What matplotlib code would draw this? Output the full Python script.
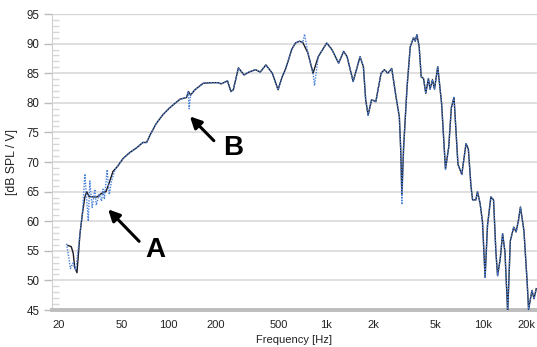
import numpy as np
import matplotlib
matplotlib.use("Agg")
import matplotlib.pyplot as plt
import matplotlib.transforms as mtransforms
from matplotlib.ticker import FixedLocator, MultipleLocator

plt.rcParams['font.family'] = ['Liberation Sans', 'DejaVu Sans']

# smoothed response (black)
freq = [22.9, 24.0, 24.7, 25.2, 26.1, 27.3, 28.3, 29.3, 30.1, 31.1, 33.1, 35.0, 37.4, 39.9,
        41.9, 44.2, 47.1, 51.3, 56.6, 62.6, 68.5, 72.4, 76.3, 83.4, 92.0, 101, 118, 130,
        133.5, 138, 147, 166, 187, 206, 216, 237, 249, 258, 278, 302, 325, 357, 383, 416,
        457, 497, 528, 553, 580, 607, 641, 681, 714, 770, 830, 896, 1014, 1094, 1207, 1300,
        1366, 1494, 1653, 1736, 1795, 1860, 1956, 2083, 2249, 2360, 2480, 2630, 2800, 2940,
        3000, 3050, 3130, 3290, 3450, 3620, 3710, 3800, 3930, 4050, 4190, 4330, 4500, 4610,
        4780, 4920, 5160, 5460, 5780, 6060, 6300, 6550, 6940, 7340, 7810, 8080, 8400, 8600,
        9020, 9240, 9600, 9940, 10330, 10700, 11240, 11690, 12100, 12400, 12890, 13350,
        13820, 14380, 14950, 15720, 16270, 16830, 17340, 18250, 19150, 19530, 20530, 21150,
        21860]
spl = [55.9, 55.7, 54.6, 52.3, 51.3, 58.0, 61.4, 64.1, 65.0, 64.2, 64.1, 64.1, 64.7, 65.0,
       66.5, 68.4, 69.2, 70.6, 71.6, 72.4, 73.3, 73.3, 74.6, 76.5, 78.0, 79.1, 80.6, 80.9,
       81.9, 81.3, 82.2, 83.3, 83.4, 83.4, 83.2, 83.7, 81.9, 82.2, 85.9, 84.7, 85.2, 85.6,
       85.2, 86.4, 85.0, 82.2, 84.4, 85.6, 87.3, 89.0, 90.1, 90.4, 90.2, 88.4, 85.0, 87.8,
       90.1, 89.0, 86.7, 88.7, 87.8, 83.6, 87.8, 86.1, 80.5, 77.9, 80.5, 80.2, 85.0, 85.6,
       85.0, 85.8, 81.0, 77.6, 72.0, 64.5, 72.5, 82.6, 89.5, 91.0, 90.4, 91.5, 89.5, 84.4,
       84.1, 81.6, 84.1, 82.3, 83.9, 82.3, 86.1, 79.9, 68.8, 72.5, 79.2, 80.9, 69.6, 67.9,
       73.1, 72.2, 65.9, 63.6, 63.6, 65.0, 63.0, 59.9, 50.5, 59.3, 64.1, 63.6, 54.8, 50.8,
       53.6, 57.9, 54.8, 44.6, 56.7, 59.0, 58.2, 60.1, 62.4, 58.4, 49.5, 45.1, 48.3, 46.9,
       48.6]

# raw response (blue dotted): low end and single-bin spikes differ from the smoothed one
raw_low_freq = [22.4, 23.2, 23.7, 24.6, 25.6, 27.3, 28.3, 29.3, 30.8, 31.5, 32.6, 33.9, 34.6,
                36.1, 37.4, 38.2, 39.0, 40.6, 41.9, 43.3, 45.6]
raw_low_spl = [56.2, 53.7, 52.0, 52.9, 51.7, 58.0, 61.4, 68.0, 60.0, 66.8, 62.3, 65.4, 62.7,
               64.5, 63.4, 65.4, 63.7, 68.7, 64.5, 66.8, 68.7]
spike_freq = [135, 733, 848, 3050]
spike_spl = [79.0, 91.6, 82.9, 62.8]

f = np.array(freq)
s = np.array(spl)
keep = (f > 46) & ~np.isin(f, [3050])
raw_f = np.concatenate([raw_low_freq, f[keep], spike_freq])
raw_s = np.concatenate([raw_low_spl, s[keep], spike_spl])
order = np.argsort(raw_f)
raw_f, raw_s = raw_f[order], raw_s[order]

fig = plt.figure(figsize=(5.37, 3.47), dpi=100)
ax = fig.add_axes([52 / 537, 1 - 310 / 347, 485 / 537, 296 / 347])

ax.plot(f, s, color='#1b1b24', lw=1.0, zorder=3)
ax.plot(raw_f, raw_s, color='#4a80d8', lw=1.0, ls=(0, (1, 1)), zorder=4)

ax.set_xscale('log')
ax.set_xlim(18.1, 22100)
ax.set_ylim(45, 95)

xt = [20, 50, 100, 200, 500, 1000, 2000, 5000, 10000, 20000]
xl = ['20', '50', '100', '200', '500', '1k', '2k', '5k', '10k', '20k']
ax.xaxis.set_major_locator(FixedLocator(xt))
ax.set_xticklabels(xl)
ax.xaxis.set_minor_locator(FixedLocator([]))
ax.tick_params(axis='x', length=0, pad=7, labelsize=8, colors='#222222')
# last label sits against the right edge, nudge it in a little
last = ax.get_xticklabels()[-1]
last.set_transform(last.get_transform() + mtransforms.ScaledTranslation(-4 / 100, 0, fig.dpi_scale_trans))

ax.yaxis.set_major_locator(MultipleLocator(5))
ax.yaxis.set_minor_locator(MultipleLocator(1))
ax.tick_params(axis='y', which='major', length=6, width=1, color='#bbbbbb',
               labelsize=8.3, labelcolor='#222222', pad=3)
ax.tick_params(axis='y', which='minor', direction='in', length=5, width=1, color='#d8d8d8')

ax.grid(axis='y', which='major', color='#d9d9d9', lw=1.2)
ax.axhline(95, color='#c8c8c8', lw=1.6, zorder=1)

for sp in ['top', 'right']:
    ax.spines[sp].set_visible(False)
ax.spines['left'].set_color('#d0d0d0')
ax.spines['bottom'].set_color('#bdbdbd')
ax.spines['bottom'].set_linewidth(2.8)

ax.set_xlabel('Frequency [Hz]', fontsize=8, color='#222222', labelpad=4)
ax.set_ylabel('[dB SPL / V]', fontsize=8.8, color='#222222', labelpad=6)

arrow = dict(arrowstyle='-|>', color='black', lw=2.2, mutation_scale=17, shrinkA=0, shrinkB=0)
ax.annotate('', xy=(41.2, 62.0), xytext=(64.9, 56.6), arrowprops=arrow, zorder=5)
ax.text(81.7, 55.2, 'A', fontsize=20, fontweight='bold', ha='center', va='center')
ax.annotate('', xy=(136.6, 77.7), xytext=(194, 73.6), arrowprops=arrow, zorder=5)
ax.text(257, 72.4, 'B', fontsize=20, fontweight='bold', ha='center', va='center')

fig.savefig('out.png', dpi=100)
